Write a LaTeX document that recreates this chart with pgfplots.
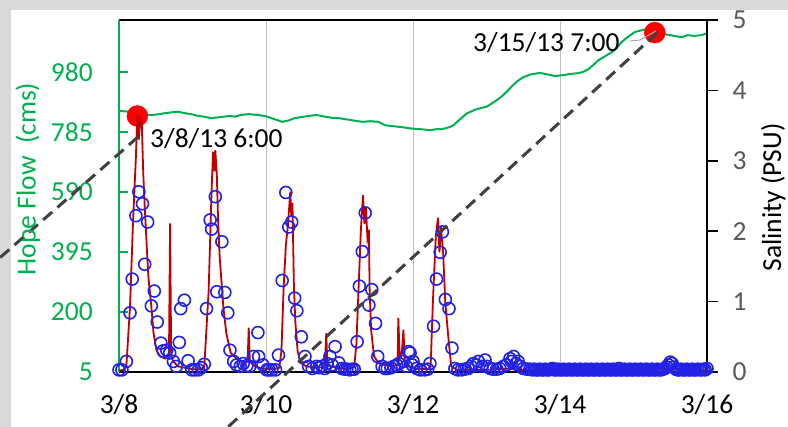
\documentclass[border=0pt]{standalone}
\usepackage{pgfplots}
\pgfplotsset{compat=1.18}
\usepackage{fontspec}
\setmainfont{Carlito}
\definecolor{fgreen}{HTML}{00B050}
\definecolor{dred}{HTML}{C00000}
\definecolor{cblue}{HTML}{2222E6}
\definecolor{bgg}{HTML}{D9D9D9}
\definecolor{tgray}{HTML}{595959}
\definecolor{dashc}{HTML}{404040}
\newcommand\fs{\fontsize{27.5}{33}\selectfont}

\pgfplotstableread{
d F
0.00 853
0.10 852
0.20 848
0.32 842
0.45 840
0.55 843
0.62 846
0.72 849
0.80 851
0.90 846
0.98 843
1.06 838
1.15 835
1.26 830
1.33 832
1.40 834
1.50 837
1.58 835
1.65 840
1.76 843
1.90 840
2.00 836
2.10 828
2.22 818
2.30 822
2.39 830
2.50 834
2.60 838
2.69 840
2.80 835
2.90 831
2.99 830
3.10 826
3.20 822
3.31 818
3.42 820
3.53 818
3.62 807
3.72 804
3.85 801
3.95 797
4.05 795
4.15 793
4.23 791
4.32 794
4.41 795
4.50 801
4.54 805
4.62 822
4.73 845
4.85 858
5.01 868
5.12 885
5.22 903
5.30 922
5.36 937
5.43 952
5.50 963
5.60 972
5.73 977
5.83 972
5.93 967
6.05 970
6.15 974
6.24 976
6.31 980
6.38 988
6.45 1002
6.52 1018
6.62 1032
6.71 1045
6.78 1060
6.84 1078
6.93 1095
7.02 1110
7.10 1115
7.16 1118
7.22 1112
7.29 1108
7.38 1104
7.47 1101
7.56 1097
7.66 1093
7.74 1100
7.82 1097
7.93 1100
8.00 1106
}\flowtab

\pgfplotstableread{
d S
0.00 0.02
0.06 0.03
0.10 0.08
0.15 0.93
0.19 2.11
0.23 3.06
0.25 3.65
0.27 3.30
0.29 3.60
0.31 3.53
0.33 2.82
0.35 2.35
0.38 1.73
0.40 1.35
0.44 0.93
0.47 0.55
0.51 0.31
0.56 0.22
0.63 0.19
0.68 0.25
0.695 2.11
0.71 0.22
0.74 0.15
0.80 0.08
0.90 0.06
1.00 0.04
1.10 0.04
1.16 0.07
1.22 1.16
1.26 2.59
1.28 3.13
1.30 2.85
1.31 3.15
1.33 2.83
1.35 2.10
1.37 1.63
1.42 0.92
1.46 0.55
1.52 0.27
1.61 0.18
1.70 0.12
1.75 0.15
1.765 0.63
1.78 0.15
1.85 0.08
1.95 0.05
2.10 0.04
2.18 0.06
2.21 0.30
2.24 1.20
2.27 1.80
2.30 2.10
2.33 2.56
2.345 2.20
2.36 2.40
2.37 1.80
2.38 1.20
2.40 0.70
2.43 0.30
2.47 0.13
2.55 0.08
2.70 0.06
2.80 0.07
2.82 0.55
2.835 0.10
2.95 0.06
3.10 0.04
3.20 0.07
3.23 0.40
3.26 1.20
3.29 2.00
3.32 2.51
3.34 2.10
3.36 2.34
3.38 1.90
3.40 2.02
3.41 1.16
3.43 0.60
3.47 0.22
3.54 0.12
3.70 0.08
3.79 0.10
3.80 0.77
3.82 0.20
3.85 0.30
3.87 0.60
3.89 0.10
4.00 0.05
4.20 0.04
4.24 0.08
4.27 0.98
4.31 1.92
4.34 2.19
4.36 1.70
4.38 2.06
4.41 1.69
4.44 0.98
4.48 0.50
4.52 0.08
4.60 0.03
5.00 0.03
5.30 0.05
5.40 0.03
6.00 0.03
7.00 0.03
7.50 0.05
8.00 0.02
}\saltab

\pgfplotstableread{
d S
0.00 0.03
0.04 0.03
0.10 0.15
0.15 0.84
0.18 1.32
0.23 2.22
0.27 2.56
0.32 2.39
0.35 1.53
0.39 2.13
0.44 0.94
0.48 1.15
0.52 0.71
0.57 0.41
0.60 0.30
0.65 0.31
0.69 0.27
0.74 0.15
0.78 0.08
0.82 0.42
0.84 0.90
0.89 1.02
0.94 0.16
0.99 0.03
1.03 0.03
1.08 0.03
1.12 0.06
1.16 0.11
1.19 0.90
1.24 2.16
1.26 2.03
1.31 2.49
1.33 1.14
1.40 1.85
1.44 1.13
1.48 0.84
1.51 0.31
1.56 0.15
1.60 0.10
1.65 0.08
1.69 0.12
1.74 0.09
1.78 0.08
1.83 0.22
1.89 0.56
1.90 0.22
1.96 0.10
2.01 0.03
2.04 0.03
2.08 0.03
2.13 0.03
2.17 0.24
2.22 1.30
2.27 2.55
2.31 2.06
2.35 2.13
2.39 1.05
2.42 0.87
2.48 0.50
2.53 0.22
2.58 0.08
2.63 0.05
2.69 0.08
2.72 0.06
2.76 0.08
2.80 0.05
2.83 0.12
2.87 0.22
2.90 0.10
2.94 0.36
2.99 0.13
3.03 0.05
3.07 0.04
3.10 0.04
3.14 0.03
3.17 0.04
3.20 0.04
3.24 0.43
3.27 1.22
3.31 1.71
3.35 2.26
3.40 0.95
3.44 1.17
3.49 0.69
3.52 0.22
3.58 0.08
3.62 0.05
3.65 0.05
3.70 0.06
3.74 0.08
3.78 0.10
3.81 0.12
3.87 0.15
3.91 0.08
3.94 0.29
3.96 0.27
3.99 0.10
4.00 0.15
4.05 0.05
4.10 0.03
4.16 0.03
4.20 0.04
4.23 0.12
4.28 0.65
4.32 1.32
4.37 1.70
4.40 1.99
4.44 1.03
4.49 0.90
4.53 0.34
4.57 0.05
4.61 0.03
4.66 0.03
4.70 0.04
4.75 0.05
4.79 0.08
4.82 0.12
4.86 0.10
4.89 0.15
4.94 0.08
4.98 0.17
5.01 0.08
5.05 0.05
5.09 0.04
5.14 0.04
5.18 0.05
5.23 0.08
5.27 0.10
5.32 0.19
5.34 0.15
5.37 0.22
5.40 0.12
5.43 0.15
5.46 0.08
5.50 0.05
5.55 0.04
5.59 0.04
5.625 0.03
5.650 0.04
5.675 0.03
5.700 0.03
5.725 0.04
5.750 0.03
5.775 0.03
5.800 0.04
5.825 0.03
5.850 0.03
5.875 0.04
5.900 0.05
5.925 0.03
5.950 0.03
5.975 0.04
6.000 0.03
6.025 0.03
6.050 0.04
6.075 0.03
6.100 0.03
6.125 0.04
6.150 0.03
6.175 0.03
6.200 0.04
6.225 0.03
6.250 0.03
6.275 0.04
6.300 0.03
6.325 0.03
6.350 0.04
6.375 0.03
6.400 0.03
6.425 0.04
6.450 0.03
6.475 0.03
6.500 0.04
6.525 0.03
6.550 0.03
6.575 0.04
6.600 0.03
6.625 0.03
6.650 0.04
6.675 0.03
6.700 0.03
6.725 0.04
6.750 0.03
6.775 0.03
6.800 0.05
6.825 0.03
6.850 0.03
6.875 0.04
6.900 0.03
6.925 0.03
6.950 0.04
6.975 0.03
7.000 0.03
7.025 0.04
7.050 0.03
7.075 0.03
7.100 0.04
7.125 0.03
7.150 0.03
7.175 0.04
7.200 0.03
7.225 0.03
7.250 0.04
7.275 0.03
7.300 0.03
7.325 0.04
7.350 0.03
7.375 0.03
7.400 0.04
7.425 0.05
7.450 0.07
7.475 0.10
7.500 0.14
7.525 0.12
7.550 0.07
7.575 0.04
7.600 0.03
7.625 0.03
7.650 0.04
7.675 0.03
7.700 0.03
7.725 0.04
7.750 0.03
7.775 0.03
7.800 0.04
7.825 0.03
7.850 0.03
7.875 0.04
7.900 0.03
7.925 0.03
7.950 0.04
7.975 0.03
8.000 0.05
}\obstab

\begin{document}
\begin{tikzpicture}[x=1pt,y=1pt]
\useasboundingbox (0,0) rectangle (788,427);
\clip (0,0) rectangle (788,427);
\fill[bgg] (0,0) rectangle (788,427);
\fill[white] (11,0) rectangle (788,417);

\begin{axis}[
  at={(119pt,55pt)}, anchor=south west, scale only axis,
  width=588pt, height=352pt,
  xmin=0, xmax=8, ymin=5, ymax=1149,
  xtick={0,2,4,6,8}, xticklabels={3/8,3/10,3/12,3/14,3/16},
  ytick={5,200,395,590,785,980},
  axis x line*=box, axis y line*=left, separate axis lines,
  x axis line style={black, line width=2.5pt, -},
  y axis line style={fgreen, line width=2pt, -},
  xmajorgrids, major grid style={draw=black!25, line width=0.9pt},
  xtick style={draw=none},
  ytick style={fgreen, line width=2pt},
  major tick length=9pt, tick align=inside,
  tick label style={font=\fs},
  /pgf/number format/assume math mode=true,
  yticklabel style={text=fgreen, anchor=east, inner sep=0pt, xshift=-26pt},
  xticklabel style={text=black},
  xticklabel shift=19pt,
  clip=false,
]
\addplot[fgreen, line width=2pt, no marks] table[x=d, y=F] {\flowtab};
\addplot[only marks, mark=*, mark size=10.5pt, color=red, mark options={fill=red, draw=red}] coordinates {(0.25,837) (7.29,1108)};
\end{axis}

\begin{axis}[
  at={(119pt,55pt)}, anchor=south west, scale only axis,
  width=588pt, height=352pt,
  xmin=0, xmax=8, ymin=0, ymax=5,
  axis x line=none, axis y line*=right,
  y axis line style={black, line width=2pt, -},
  ytick={0,1,2,3,4,5},
  ytick style={black, line width=1.5pt},
  major tick length=11pt, tick align=outside,
  tick label style={font=\fs},
  /pgf/number format/assume math mode=true,
  yticklabel style={text=tgray},
  yticklabel shift=11pt,
  clip=false,
]
\addplot[dred, line width=1.8pt, no marks] table[x=d, y=S] {\saltab};
\addplot[only marks, mark=o, mark size=6pt, color=cblue, mark options={line width=1.6pt}] table[x=d, y=S] {\obstab};
\end{axis}

\draw[dashc, line width=3pt, dash pattern=on 12pt off 7pt] (138,290) -- (-5,165);
\draw[dashc, line width=3pt, dash pattern=on 12pt off 7pt] (657,394) -- (228,0);
\draw[black!35, line width=1pt] (630,386) -- (640,387) -- (656,396);

\node[anchor=base west, inner sep=0, font=\fs] at (150,279) {3/8/13 6:00};
\node[anchor=base west, inner sep=0, font=\fs] at (473,375) {3/15/13 7:00};
\node[rotate=90, anchor=base, inner sep=0, font=\fs, text=fgreen] at (35.5,248) {Hope Flow\ \ (cms)};
\node[rotate=90, anchor=base, inner sep=0, font=\fs, text=black] at (781,229.5) {Salinity (PSU)};
\end{tikzpicture}
\end{document}
